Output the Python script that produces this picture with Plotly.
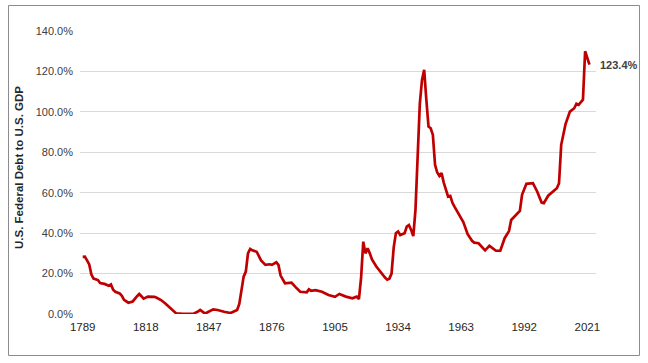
import plotly.graph_objects as go

years = [1789, 1790, 1791, 1792, 1793, 1794, 1796, 1797, 1799, 1800, 1801, 1802, 1803, 1804,
         1806, 1807, 1808, 1810, 1812, 1814, 1815, 1816, 1817, 1819, 1822, 1823, 1825, 1827,
         1828, 1830, 1832, 1835, 1840, 1842, 1843, 1845, 1846, 1849, 1851, 1854, 1857, 1858,
         1860, 1861, 1862, 1863, 1864, 1865, 1866, 1867, 1869, 1870, 1871, 1873, 1875, 1876,
         1878, 1879, 1880, 1882, 1885, 1887, 1889, 1892, 1893, 1894, 1896, 1899, 1902, 1905,
         1907, 1910, 1913, 1915, 1916, 1917, 1918, 1919, 1920, 1921, 1922, 1924, 1926, 1928,
         1929, 1930, 1931, 1932, 1933, 1934, 1935, 1937, 1938, 1939, 1940, 1941, 1942, 1943,
         1944, 1945, 1946, 1947, 1948, 1949, 1950, 1951, 1952, 1953, 1954, 1955, 1956, 1957,
         1958, 1959, 1960, 1962, 1964, 1966, 1968, 1969, 1971, 1974, 1976, 1979, 1981, 1983,
         1985, 1986, 1988, 1990, 1991, 1993, 1996, 1998, 2000, 2001, 2003, 2005, 2007, 2008,
         2009, 2011, 2013, 2015, 2016, 2017, 2019, 2020, 2021, 2022]

debt_pct = [28.3, 28.4, 26.5, 24.5, 19.5, 17.5, 16.8, 15.3, 14.9, 14.5, 14.0, 14.6, 12.0, 11.0,
            10.2, 9.0, 7.0, 5.6, 6.2, 8.8, 9.9, 8.8, 7.6, 8.6, 8.5, 8.0, 6.9, 5.2,
            4.3, 2.3, 0.3, 0.05, 0.2, 1.2, 2.0, 0.4, 0.6, 2.3, 2.0, 1.1, 0.5, 1.0,
            2.0, 5.0, 13.0, 18.5, 21.0, 30.0, 32.2, 31.5, 30.8, 29.0, 26.5, 24.3, 24.6, 24.3,
            25.6, 24.3, 19.0, 15.2, 15.5, 13.2, 11.0, 10.7, 12.2, 11.5, 11.8, 11.0, 9.4, 8.5,
            9.9, 8.6, 7.8, 8.6, 7.4, 18.0, 35.8, 30.0, 32.5, 30.0, 27.0, 23.5, 20.5, 18.0,
            17.0, 17.5, 20.0, 33.0, 40.0, 40.8, 39.1, 40.0, 43.2, 44.0, 41.6, 38.5, 51.5, 81.0,
            104.0, 115.8, 120.8, 105.9, 92.7, 91.9, 88.6, 73.8, 70.0, 68.3, 69.7, 65.0, 62.0, 58.1,
            58.4, 55.0, 53.0, 49.5, 45.5, 39.5, 36.2, 35.3, 35.0, 31.5, 33.7, 31.3, 31.3, 37.5,
            41.0, 46.5, 48.5, 51.0, 59.0, 64.4, 64.7, 60.5, 55.1, 54.8, 58.5, 60.5, 62.2, 64.7,
            83.7, 94.0, 100.1, 101.8, 104.0, 103.5, 106.0, 130.0, 126.5, 123.4]

x_ticks = [1789, 1818, 1847, 1876, 1905, 1934, 1963, 1992, 2021]
y_ticks = [0, 20, 40, 60, 80, 100, 120, 140]
y_title = "U.S. Federal Debt to U.S. GDP"
last_label = "123.4%"

fig = go.Figure()
fig.add_trace(go.Scatter(
    x=years, y=debt_pct, mode="lines",
    line=dict(color="#C00000", width=2.7),
    hoverinfo="skip", showlegend=False,
))

W, H = 648, 363
L, R, T, B = 80, 52, 31, 49
pw, ph = W - L - R, H - T - B

def px_x(p):
    return (p - L) / pw

def px_y(p):
    return (H - B - p) / ph

fig.update_layout(
    width=W, height=H,
    margin=dict(l=L, r=R, t=T, b=B),
    paper_bgcolor="white", plot_bgcolor="white",
    font=dict(family="Liberation Sans, Arial, sans-serif", size=11, color="#404040"),
    xaxis=dict(
        range=[1787.76, 2025.0],
        tickvals=x_ticks, ticktext=[str(v) for v in x_ticks],
        showgrid=False, zeroline=False, showline=False, ticks="",
        tickfont=dict(size=11.5, color="#262626"),
        ticklabelstandoff=4,
    ),
    yaxis=dict(
        range=[0, 140],
        tickvals=y_ticks, ticktext=[f"{v:.1f}%" for v in y_ticks],
        showgrid=True, gridcolor="#D9D9D9", gridwidth=1,
        zeroline=False, showline=False, ticks="",
        tickfont=dict(size=11, color="#404040"),
        ticklabelstandoff=6,
    ),
    shapes=[dict(
        type="rect", xref="paper", yref="paper",
        x0=px_x(8.5), x1=px_x(639.5), y0=px_y(355.5), y1=px_y(5.5),
        line=dict(color="#8C8C8C", width=1), fillcolor="rgba(0,0,0,0)", layer="below",
    )],
    annotations=[
        dict(text=f"<b>{y_title}</b>", textangle=-90, xref="paper", yref="paper",
             x=px_x(18.5), y=px_y(167.5), showarrow=False,
             font=dict(size=11.5, color="#262626"), xanchor="center", yanchor="middle"),
        dict(text=f"<b>{last_label}</b>", xref="paper", yref="paper",
             x=px_x(598), y=px_y(65), showarrow=False,
             font=dict(size=11, color="#404040"), xanchor="left", yanchor="middle"),
    ],
)

fig.write_html("out.html")
